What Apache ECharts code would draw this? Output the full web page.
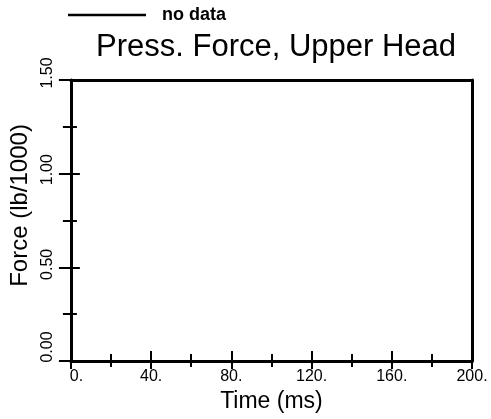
<!DOCTYPE html>
<html>
<head>
<meta charset="utf-8">
<script src="https://cdn.jsdelivr.net/npm/echarts@6/dist/echarts.min.js"></script>
<style>html,body{margin:0;padding:0;background:#fff}#c{width:491px;height:419px}</style>
</head>
<body>
<div id="c"></div>
<script>
const chartTitle = 'Press. Force, Upper Head';
const seriesName = 'no data';
const seriesValues = [];            // the reference plot contains no data
const xRange = [0, 200];
const xMajorStep = 40;
const yRange = [0, 1.5];
const yMajorStep = 0.5;
const xAxisTitle = 'Time (ms)';
const yAxisTitle = 'Force (lb/1000)';

const FONT = 'Liberation Sans';
const chart = echarts.init(document.getElementById('c'), null, {renderer: 'canvas'});
const grid = {left: 70, right: 19, top: 80, bottom: 58};
const black = '#000';

// small per-label nudges (rotated text: left padding moves label upward)
const yShift = {'0.00': 28, '0.50': 6, '1.00': 8, '1.50': 14};

function baseX(extra) {
  return Object.assign({
    type: 'value', min: xRange[0], max: xRange[1], interval: xMajorStep,
    splitLine: {show: false}, gridIndex: 0
  }, extra);
}
function baseY(extra) {
  return Object.assign({
    type: 'value', min: yRange[0], max: yRange[1], interval: yMajorStep,
    splitLine: {show: false}, gridIndex: 0
  }, extra);
}

const yRich = {};
Object.keys(yShift).forEach((k, i) => {
  yRich['s' + i] = {fontFamily: FONT, fontSize: 16, color: black, padding: [0, 0, 0, yShift[k]]};
});

chart.setOption({
  animation: false,
  backgroundColor: '#fff',
  title: {
    text: chartTitle, left: 96, top: 32, padding: 0,
    textStyle: {fontFamily: FONT, fontSize: 31, fontWeight: 'normal', color: black}
  },
  legend: {
    left: 63, top: 1, itemWidth: 78, itemHeight: 14,
    data: [{name: seriesName, icon: 'path://M0,6 L78,6 L78,8.4 L0,8.4 Z'}],
    textStyle: {fontFamily: FONT, fontSize: 18, fontWeight: 'bold', color: black, padding: [6, 0, 0, 11]}
  },
  grid: grid,
  xAxis: [
    baseX({
      position: 'bottom',
      axisLine: {show: true, onZero: false, lineStyle: {color: black, width: 3}},
      axisTick: {show: true, inside: false, length: 8, lineStyle: {color: black, width: 2}},
      minorTick: {show: true, splitNumber: 2, length: 6, lineStyle: {color: black, width: 2}},
      axisLabel: {show: true, margin: 8, fontFamily: FONT, fontSize: 16, color: black,
                  formatter: v => v === 0 ? '{z|' + v + '.}' : v + '.',
                  rich: {z: {fontFamily: FONT, fontSize: 16, color: black, padding: [0, 0, 0, 11]}}},
      name: xAxisTitle, nameLocation: 'middle', nameGap: 27,
      nameTextStyle: {fontFamily: FONT, fontSize: 23, color: black}
    }),
    baseX({
      position: 'bottom',
      axisLine: {show: false, onZero: false},
      axisTick: {show: true, inside: true, length: 10, lineStyle: {color: black, width: 2}},
      minorTick: {show: true, splitNumber: 2, length: 7, lineStyle: {color: black, width: 2}},
      axisLabel: {show: false}
    }),
    baseX({
      position: 'top',
      axisLine: {show: true, onZero: false, lineStyle: {color: black, width: 3}},
      axisTick: {show: false}, axisLabel: {show: false}
    })
  ],
  yAxis: [
    baseY({
      position: 'left',
      axisLine: {show: true, onZero: false, lineStyle: {color: black, width: 3}},
      axisTick: {show: true, inside: false, length: 12, lineStyle: {color: black, width: 2}},
      minorTick: {show: true, splitNumber: 2, length: 8, lineStyle: {color: black, width: 2}},
      axisLabel: {show: true, rotate: 90, margin: 15, fontFamily: FONT, fontSize: 16, color: black,
                  formatter: v => {
                    const t = v.toFixed(2);
                    const i = Object.keys(yShift).indexOf(t);
                    return i >= 0 ? '{s' + i + '|' + t + '}' : t;
                  },
                  rich: yRich},
      name: yAxisTitle, nameLocation: 'middle', nameGap: 33, nameRotate: 90,
      nameTextStyle: {fontFamily: FONT, fontSize: 24, color: black, padding: [0, 0, 0, 30]}
    }),
    baseY({
      position: 'left',
      axisLine: {show: false, onZero: false},
      axisTick: {show: true, inside: true, length: 9, lineStyle: {color: black, width: 2}},
      minorTick: {show: true, splitNumber: 2, length: 6, lineStyle: {color: black, width: 2}},
      axisLabel: {show: false}
    }),
    baseY({
      position: 'right',
      axisLine: {show: true, onZero: false, lineStyle: {color: black, width: 3}},
      axisTick: {show: false}, axisLabel: {show: false}
    })
  ],
  series: [{
    name: seriesName, type: 'line', xAxisIndex: 0, yAxisIndex: 0,
    data: seriesValues, showSymbol: false, symbol: 'none',
    itemStyle: {color: black}, lineStyle: {color: black, width: 2}
  }]
});
</script>
</body>
</html>
